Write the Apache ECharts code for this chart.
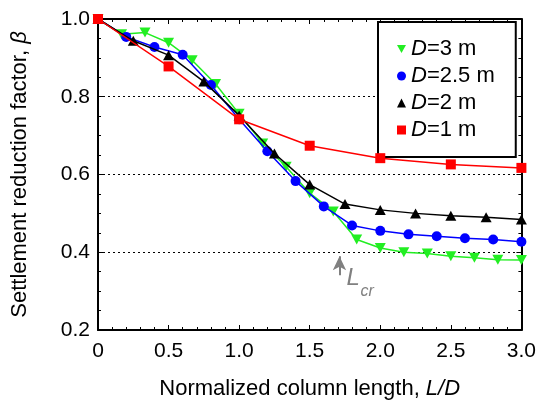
<!DOCTYPE html>
<html>
<head>
<meta charset="utf-8">
<script src="https://cdn.jsdelivr.net/npm/echarts@6/dist/echarts.min.js"></script>
<style>html,body{margin:0;padding:0;background:#fff}#c{width:539px;height:412px}</style>
</head>
<body>
<div id="c"></div>
<script>
// ---- data ----
const seriesNames = ['D=3 m', 'D=2.5 m', 'D=2 m', 'D=1 m'];
const x3 = [0, 0.167, 0.333, 0.5, 0.667, 0.833, 1.0, 1.167, 1.333, 1.5, 1.667, 1.833, 2.0, 2.167, 2.333, 2.5, 2.667, 2.833, 3.0];
const y3 = [1.0, 0.961, 0.965, 0.939, 0.894, 0.833, 0.756, 0.680, 0.620, 0.552, 0.505, 0.433, 0.411, 0.400, 0.397, 0.390, 0.386, 0.381, 0.380];
const x25 = [0, 0.2, 0.4, 0.6, 0.8, 1.0, 1.2, 1.4, 1.6, 1.8, 2.0, 2.2, 2.4, 2.6, 2.8, 3.0];
const y25 = [1.0, 0.954, 0.928, 0.908, 0.830, 0.742, 0.660, 0.583, 0.518, 0.469, 0.455, 0.446, 0.441, 0.436, 0.433, 0.427];
const x2 = [0, 0.25, 0.5, 0.75, 1.0, 1.25, 1.5, 1.75, 2.0, 2.25, 2.5, 2.75, 3.0];
const y2 = [1.0, 0.944, 0.907, 0.839, 0.752, 0.654, 0.574, 0.524, 0.509, 0.500, 0.494, 0.490, 0.484];
const x1 = [0, 0.5, 1.0, 1.5, 2.0, 2.5, 3.0];
const y1 = [1.0, 0.878, 0.742, 0.674, 0.642, 0.626, 0.617];
const lcrArrow = [[1.711, 0.341], [1.711, 0.390]];
const lcrLabel = ['L', 'cr'];
const xTitle = 'Normalized column length, ';
const xTitleItalic = 'L/D';
const yTitle = 'Settlement reduction factor, ';
const yTitleItalic = 'β';

const pair = (xs, ys) => xs.map((x, i) => [x, ys[i]]);
const downTri = 'path://M0,0 L10,0 L5,9 Z';
const font = 'Liberation Sans, Arial, sans-serif';
const colors = ['#22ee22', '#0000ff', '#000000', '#ff0000'];
const symbols = [downTri, 'circle', 'triangle', 'rect'];
const sizes = [[11, 10], 10, [11, 10], 10];
const datas = [pair(x3, y3), pair(x25, y25), pair(x2, y2), pair(x1, y1)];

const chart = echarts.init(document.getElementById('c'), null, {renderer: 'canvas'});

const series = seriesNames.map((n, i) => ({
  name: n, type: 'line', data: datas[i], xAxisIndex: 0, yAxisIndex: 0,
  symbol: symbols[i], symbolSize: sizes[i], symbolKeepAspect: false,
  lineStyle: {color: colors[i], width: 1.5},
  itemStyle: {color: colors[i]},
  emphasis: {disabled: true}, animation: false, z: 2 + i
}));
series[3].markLine = {
  silent: true, animation: false,
  symbol: ['none', 'arrow'], symbolSize: [10, 14],
  lineStyle: {color: '#808080', width: 2, type: 'solid'},
  label: {show: false},
  data: [[{coord: lcrArrow[0]}, {coord: lcrArrow[1]}]]
};

const axisCommon = {
  axisLine: {show: true, onZero: false, lineStyle: {color: '#000', width: 2}},
  axisTick: {show: true, inside: true, length: 5, lineStyle: {color: '#000', width: 1}},
  minorTick: {show: true, length: 3, lineStyle: {color: '#000', width: 1}},
};

chart.setOption({
  animation: false,
  textStyle: {fontFamily: font},
  grid: {left: 98, right: 16, top: 19, bottom: 82, containLabel: false},
  legend: {
    orient: 'vertical', left: 378, top: 22,
    borderColor: '#000', borderWidth: 2, backgroundColor: '#fff',
    padding: [16, 21, 16, 19], itemGap: 5, itemWidth: 9, itemHeight: 9, itemTextGap: 14,
    selectedMode: false,
    textStyle: {fontSize: 22, color: '#000', fontFamily: font, lineHeight: 20,
      rich: {i: {fontStyle: 'italic', fontSize: 22, fontFamily: font, lineHeight: 20}}},
    formatter: n => '{i|D}' + n.slice(1),
    data: seriesNames.map((n, i) => ({name: n, icon: symbols[i], itemStyle: {color: colors[i]}}))
  },
  xAxis: [
    Object.assign({}, axisCommon, {
      type: 'value', min: 0, max: 3, interval: 0.5, position: 'bottom',
      minorTick: Object.assign({}, axisCommon.minorTick, {splitNumber: 5}),
      splitLine: {show: false},
      axisLabel: {fontSize: 21, color: '#000', margin: 11, fontFamily: font,
        formatter: v => v === 0 ? '0' : v.toFixed(1)},
      name: xTitle + '{i|' + xTitleItalic + '}', nameLocation: 'middle', nameGap: 48,
      nameTextStyle: {fontSize: 22, color: '#000', fontFamily: font,
        rich: {i: {fontStyle: 'italic', fontSize: 22, fontFamily: font}}}
    }),
    Object.assign({}, axisCommon, {
      type: 'value', min: 0, max: 3, interval: 0.5, position: 'top',
      minorTick: Object.assign({}, axisCommon.minorTick, {splitNumber: 5}),
      splitLine: {show: false}, axisLabel: {show: false}
    })
  ],
  yAxis: [
    Object.assign({}, axisCommon, {
      type: 'value', min: 0.2, max: 1.0, interval: 0.2, position: 'left',
      minorTick: Object.assign({}, axisCommon.minorTick, {splitNumber: 4}),
      splitLine: {show: true, lineStyle: {color: '#000', width: 1, type: [2, 3]}},
      axisLabel: {fontSize: 21, color: '#000', margin: 8, fontFamily: font,
        formatter: v => v.toFixed(1)},
      name: yTitle + '{i|' + yTitleItalic + '}', nameLocation: 'middle', nameGap: 67,
      nameTextStyle: {fontSize: 22, color: '#000', fontFamily: font,
        rich: {i: {fontStyle: 'italic', fontSize: 22, fontFamily: font}}}
    }),
    Object.assign({}, axisCommon, {
      type: 'value', min: 0.2, max: 1.0, interval: 0.2, position: 'right',
      minorTick: Object.assign({}, axisCommon.minorTick, {splitNumber: 4}),
      splitLine: {show: false}, axisLabel: {show: false}
    })
  ],
  series: series
});

const p = chart.convertToPixel({gridIndex: 0}, lcrArrow[0]);
chart.setOption({
  graphic: [
    {type: 'text', x: p[0] + 7, y: p[1] - 9, silent: true,
      style: {text: lcrLabel[0], fill: '#808080', font: 'italic 24px ' + font, verticalAlign: 'top'}},
    {type: 'text', x: p[0] + 21, y: p[1] + 8, silent: true,
      style: {text: lcrLabel[1], fill: '#808080', font: 'italic 16px ' + font, verticalAlign: 'top'}}
  ]
});
</script>
</body>
</html>
